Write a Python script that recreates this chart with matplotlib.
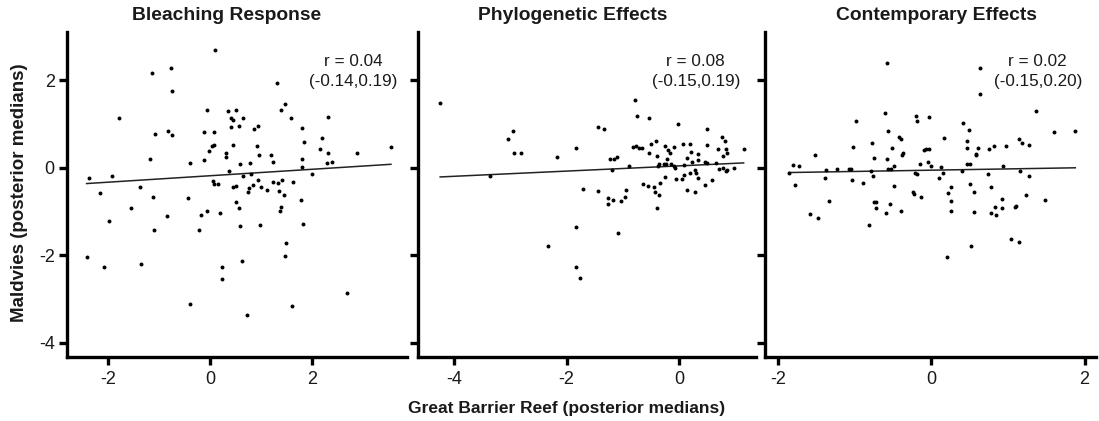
import matplotlib
matplotlib.use("Agg")
import matplotlib.pyplot as plt
import numpy as np

plt.rcParams['font.family'] = ['Liberation Sans', 'DejaVu Sans']
plt.rcParams['axes.unicode_minus'] = False

titles = ["Bleaching Response", "Phylogenetic Effects", "Contemporary Effects"]
r_texts = ["r = 0.04\n(-0.14,0.19)", "r = 0.08\n(-0.15,0.19)", "r = 0.02\n(-0.15,0.20)"]

bleach_x = [0.09, -1.15, -0.77, -0.75, 1.32, -1.80, -1.08, -0.82, -0.74, -0.07, -0.12, 0.07, 0.36, 0.51, 0.41,
            0.45, 0.64, 0.42, 0.56, 0.87, 0.95, 1.47, 1.40, 1.59, 2.32, 1.81, 2.21, 1.85, 2.17, 2.32,
            2.89, 3.56, 2.31, 2.40, 1.81, 1.80, 2.01, 1.19, 1.23, 0.97, 0.93, 0.79, 0.59, 0.45, 0.31,
            0.32, 0.04, 0.08, -0.03, -0.12, -0.39, -1.19, -2.39, -1.94, 0.38, 0.65, 0.80, 0.95, 0.85, 0.77,
            0.75, 0.51, 0.45, 0.06, 0.07, 0.16, 1.01, 1.13, 1.23, 1.34, 1.42, 1.63, 1.35, 1.46, 1.79,
            0.52, 0.56, 1.40, 1.38, 0.20, -0.06, -0.18, -0.43, -1.13, -1.38, -2.17, -1.56, -1.98, -0.84, -1.10,
            -0.21, 0.59, 0.99, 1.82, 1.50, 1.48, 0.62, 0.23, 0.23, -1.36, -2.09, -2.43, -0.39, 0.73, 1.61, 2.70]
bleach_y = [2.69, 2.17, 2.27, 1.75, 1.94, 1.13, 0.78, 0.85, 0.75, 1.31, 0.81, 0.81, 1.29, 1.33, 1.14,
            1.09, 1.14, 0.93, 0.95, 0.88, 0.96, 1.45, 1.31, 1.13, 1.16, 0.91, 0.69, 0.59, 0.42, 0.34,
            0.34, 0.48, 0.10, 0.12, 0.20, 0.02, -0.14, 0.29, 0.12, 0.28, 0.50, 0.11, 0.09, 0.53, 0.34,
            0.25, 0.50, 0.51, 0.38, 0.17, 0.10, 0.21, -0.23, -0.18, -0.08, -0.19, -0.14, -0.27, -0.40, -0.46,
            -0.56, -0.41, -0.45, -0.30, -0.38, -0.38, -0.44, -0.50, -0.33, -0.34, -0.29, -0.32, -0.53, -0.62, -0.74,
            -0.78, -0.92, -0.89, -1.00, -1.04, -1.00, -1.09, -0.69, -0.67, -0.43, -0.58, -0.93, -1.22, -1.10, -1.42,
            -1.43, -1.33, -1.32, -1.29, -1.72, -2.01, -2.13, -2.27, -2.55, -2.19, -2.28, -2.03, -3.11, -3.37, -3.16, -2.87]

phylo_x = [-4.25, -2.96, -3.04, -2.93, -2.82, -2.17, -3.36, -1.83, -1.44, -1.34, -1.71, -1.45, -1.23, -1.15, -1.10,
           -1.20, -1.26, -1.18, -1.26, -1.03, -0.95, -0.97, -0.89, -0.79, -0.75, -0.54, -0.82, -0.77, -0.72, -0.66,
           -0.54, -0.50, -0.41, -0.39, -0.25, -0.19, -0.16, -0.09, -0.22, -0.24, -0.35, -0.37, -0.27, -0.15, -0.09,
           -0.08, -0.02, 0.07, 0.20, 0.22, 0.15, 0.08, 0.23, 0.34, 0.34, 0.50, 0.49, 0.47, 0.50, 0.65,
           0.69, 0.76, 0.82, 0.84, 0.85, 0.78, 1.15, 0.71, 0.78, 0.85, 0.84, 0.98, -0.05, 0.05, 0.09,
           0.20, 0.30, 0.34, 0.28, 0.15, 0.28, 0.46, 0.58, -0.25, -0.34, -0.36, -0.43, -0.45, -0.56, -0.64,
           -0.40, -1.09, -1.83, -2.33, -1.83, -1.77]
phylo_y = [1.48, 0.84, 0.65, 0.34, 0.34, 0.25, -0.18, 0.44, 0.94, 0.88, -0.49, -0.53, 0.19, 0.21, 0.25,
           -0.06, -0.69, -0.73, -0.83, -0.75, -0.52, -0.67, 0.05, 1.54, 1.18, 1.13, 0.47, 0.50, 0.46, 0.44,
           0.33, 0.54, 0.62, 0.26, 0.49, 0.40, 0.33, 0.48, 0.21, 0.08, 0.09, 0.05, 0.08, 0.08, 0.05,
           0.00, 1.01, 0.54, 0.54, 0.37, 0.23, 0.06, 0.12, 0.31, 0.18, 0.88, 0.53, 0.14, 0.11, 0.11,
           0.42, 0.71, 0.61, 0.42, 0.33, 0.27, 0.43, -0.02, 0.00, -0.05, -0.08, -0.01, -0.25, -0.26, -0.17,
           -0.13, -0.13, -0.24, -0.05, -0.52, -0.56, -0.40, -0.27, -0.22, -0.35, -0.62, -0.56, -0.45, -0.42, -0.37,
           -0.91, -1.49, -1.36, -1.80, -2.26, -2.51]

contemp_x = [-0.58, 0.64, 0.64, -0.61, -0.98, 1.37, -0.20, -0.18, -0.03, 0.41, 0.49, -0.56, 1.60, 1.88, -0.42,
             -0.39, 0.16, 0.46, -0.78, -1.02, -0.51, -0.07, -0.09, -0.03, 0.47, 0.61, 0.75, 0.82, 0.97, 1.14,
             1.18, 1.27, -0.37, -0.38, 0.58, 0.59, -1.52, -0.75, -0.58, -0.04, -0.15, -0.01, 0.13, 0.46, 0.51,
             0.93, -0.49, -1.80, -1.72, -1.23, -1.08, -1.05, -1.37, -1.86, -0.79, -0.76, -0.56, -0.52, -0.21, -0.19,
             0.15, 0.10, 0.40, 0.74, 1.16, 1.27, -1.39, -1.04, -0.89, -1.78, -0.49, -0.24, -0.23, -0.14, 0.22,
             0.26, 0.50, 0.56, 0.78, 0.26, 0.26, -1.34, -1.58, -1.48, -0.75, -0.72, -0.72, -0.54, -0.59, -0.39,
             0.56, 0.78, 0.85, 0.83, 0.92, 0.92, 1.09, 1.11, 1.23, 1.48, -0.81, 1.04, 1.15, 0.52, 0.20]
contemp_y = [2.40, 2.27, 1.69, 1.25, 1.06, 1.29, 1.18, 1.06, 1.15, 1.03, 0.86, 0.84, 0.81, 0.84, 0.70,
             0.65, 0.69, 0.62, 0.56, 0.48, 0.44, 0.42, 0.41, 0.43, 0.46, 0.46, 0.43, 0.50, 0.49, 0.65,
             0.56, 0.51, 0.34, 0.29, 0.31, 0.28, 0.29, 0.22, 0.19, 0.13, 0.08, 0.03, 0.02, 0.09, 0.08,
             0.05, 0.04, 0.07, 0.05, -0.02, -0.04, -0.02, -0.06, -0.11, -0.08, -0.18, -0.03, -0.02, -0.11, -0.14,
             -0.13, -0.24, -0.08, -0.14, -0.07, -0.18, -0.24, -0.27, -0.34, -0.40, -0.41, -0.56, -0.60, -0.67, -0.57,
             -0.43, -0.38, -0.56, -0.43, -0.76, -1.00, -0.76, -1.05, -1.15, -0.79, -0.79, -0.92, -0.84, -1.03, -0.98,
             -1.01, -1.03, -1.07, -0.90, -0.72, -0.92, -0.89, -0.87, -0.63, -0.74, -1.31, -1.64, -1.70, -1.79, -2.04]

fit_slopes = [0.0735, 0.0594, 0.029]
fit_intercepts = [-0.183, 0.042, -0.056]

xs_all = [bleach_x, phylo_x, contemp_x]
ys_all = [bleach_y, phylo_y, contemp_y]
xticks_all = [[-2, 0, 2], [-4, -2, 0], [-2, 0, 2]]
yticks = [2, 0, -2, -4]

W, H = 1099, 421
fig = plt.figure(figsize=(W / 100, H / 100), dpi=100)

panel_px = [(67.3, 406.7), (417.7, 756.0), (765.0, 1096.0)]
top_px, bottom_px = 31.7, 356.7
xlims = [(-2.81, 3.87), (-4.65, 1.37), (-2.17, 2.15)]
ylim = (-4.32, 3.11)
title_fx = [0.47, 0.458, 0.518]
text_pos = [(2.81, 2.20), (0.30, 2.20), (1.39, 2.20)]
txt_color = '#1a1a1a'

for i in range(3):
    l, r = panel_px[i]
    ax = fig.add_axes([l / W, (H - bottom_px) / H, (r - l) / W, (bottom_px - top_px) / H])
    x = np.array(xs_all[i]); y = np.array(ys_all[i])
    ax.scatter(x, y, s=8, color='black', linewidths=0, zorder=3)
    xx = np.array([x.min(), x.max()])
    ax.plot(xx, fit_slopes[i] * xx + fit_intercepts[i], color='#222222', lw=1.1, zorder=2)
    ax.set_xlim(*xlims[i]); ax.set_ylim(*ylim)
    ax.set_xticks(xticks_all[i])
    ax.set_yticks(yticks)
    for s in ['top', 'right']:
        ax.spines[s].set_visible(False)
    for s in ['left', 'bottom']:
        ax.spines[s].set_linewidth(2.4)
        ax.spines[s].set_color('black')
    ax.tick_params(axis='both', direction='out', length=5.5, width=2.4, colors='black',
                   labelsize=13, labelcolor=txt_color)
    ax.tick_params(axis='x', pad=5)
    ax.tick_params(axis='y', pad=3.5)
    if i > 0:
        ax.set_yticklabels([])
    ax.text(title_fx[i], 1.05, titles[i], transform=ax.transAxes, ha='center', va='center',
            fontsize=13.9, fontweight='bold', color=txt_color)
    ax.text(text_pos[i][0], text_pos[i][1], r_texts[i], ha='center', va='center',
            fontsize=12.3, color=txt_color, linespacing=1.45)

fig.text(20 / W, 1 - 193 / H, "Maldvies (posterior medians)", rotation=90, ha='center', va='center',
         fontsize=13.5, fontweight='bold', color=txt_color)
fig.text(567 / W, 1 - 409 / H, "Great Barrier Reef (posterior medians)", ha='center', va='center',
         fontsize=12.5, fontweight='bold', color=txt_color)

fig.savefig("out.png", dpi=100)
